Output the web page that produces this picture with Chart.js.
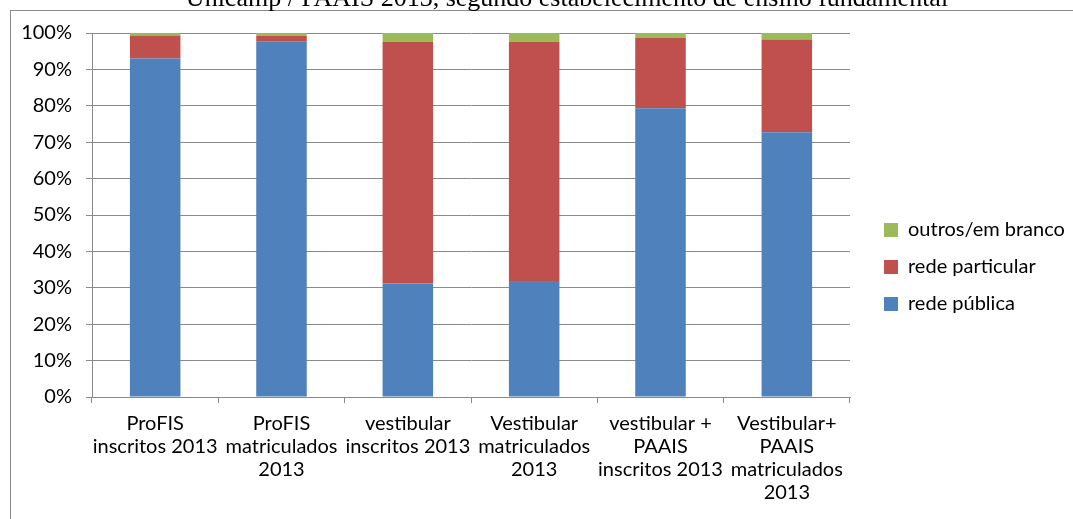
<!DOCTYPE html>
<html><head><meta charset="utf-8">
<script src="https://cdn.jsdelivr.net/npm/chart.js@4.4.0/dist/chart.umd.min.js"></script>
<style>
html,body{margin:0;padding:0;background:#fff;overflow:hidden;width:1073px;height:519px;}
#wrap{position:relative;width:1073px;height:519px;overflow:hidden;}
#title{position:absolute;left:0;width:1134px;text-align:center;top:-14.8px;font-family:'Liberation Serif';font-size:26px;line-height:26px;color:#000;white-space:nowrap;z-index:2;}
canvas{position:absolute;left:0;top:0;}
</style></head><body>
<div id="wrap"><canvas id="c" width="1073" height="519"></canvas><div id="title">Unicamp / PAAIS 2013, segundo estabelecimento de ensino fundamental</div></div>
<script>
const categories = [
  ["ProFIS", "inscritos 2013"],
  ["ProFIS", "matriculados", "2013"],
  ["vestibular", "inscritos 2013"],
  ["Vestibular", "matriculados", "2013"],
  ["vestibular +", "PAAIS", "inscritos 2013"],
  ["Vestibular+", "PAAIS", "matriculados", "2013"]
];
const redePublica    = [93.0, 97.6, 31.2, 31.9, 79.3, 72.7];
const redeParticular = [6.3, 1.6, 66.4, 65.7, 19.3, 25.5];
const outrosEmBranco = [0.7, 0.8, 2.4, 2.4, 1.4, 1.8];
const yTicks = [0, 10, 20, 30, 40, 50, 60, 70, 80, 90, 100];

const FONT = 'Lato';
const GRID = '#8a8a8a';

const framePlugin = {
  id: 'frame',
  beforeDraw(chart) {
    const ctx = chart.ctx;
    ctx.save();
    ctx.fillStyle = '#fff';
    ctx.fillRect(0, 0, chart.width, chart.height);
    ctx.strokeStyle = '#8a8a8a';
    ctx.lineWidth = 1;
    ctx.strokeRect(10.5, 10.5, 2000, 2000);
    ctx.restore();
  }
};

const legendPlace = {
  id: 'legendPlace',
  beforeLayout(chart) {
    const lg = chart.legend;
    if (lg && !lg._patched) {
      const orig = lg.fit.bind(lg);
      lg.fit = function () { orig(); this.width = 223; };
      lg._patched = true;
    }
  },
  afterLayout(chart) {
    const lg = chart.legend;
    const w = lg.right - lg.left;
    lg.left = 867; lg.right = lg.left + w;
    lg.top = 203; lg.bottom = lg.top + 200;
  }
};

new Chart(document.getElementById('c'), {
  type: 'bar',
  data: {
    labels: categories,
    datasets: [
      { label: 'rede pública', data: redePublica, backgroundColor: '#4F81BD' },
      { label: 'rede particular', data: redeParticular, backgroundColor: '#C0504D' },
      { label: 'outros/em branco', data: outrosEmBranco, backgroundColor: '#9BBB59' }
    ]
  },
  options: {
    responsive: false,
    animation: false,
    devicePixelRatio: 1,
    layout: { padding: { top: 33, left: 0, right: 0, bottom: 0 } },
    datasets: { bar: { categoryPercentage: 1, barPercentage: 0.4 } },
    plugins: {
      tooltip: { enabled: false },
      title: { display: false },
      legend: {
        position: 'right',
        align: 'start',
        reverse: true,
        labels: {
          boxWidth: 14, boxHeight: 14, padding: 17,
          color: '#000',
          font: { family: FONT, size: 20 }
        }
      }
    },
    scales: {
      x: {
        stacked: true,
        offset: true,
        afterFit(s) { s.height = 122; },
        grid: { offset: true, drawOnChartArea: false, tickLength: 6, color: GRID },
        border: { display: true, color: GRID },
        ticks: {
          autoSkip: false, maxRotation: 0, minRotation: 0,
          padding: 9.5, color: '#000',
          font: { family: FONT, size: 20, lineHeight: 1.15 }
        }
      },
      y: {
        stacked: true,
        min: 0, max: 100,
        afterFit(s) { s.width = 92; },
        afterBuildTicks(s) { s.ticks = yTicks.map(v => ({ value: v })); },
        grid: { tickLength: 6, color: GRID },
        border: { display: true, color: GRID },
        ticks: {
          padding: 14, color: '#000',
          font: { family: FONT, size: 20 },
          callback: v => v + '%'
        }
      }
    }
  },
  plugins: [framePlugin, legendPlace]
});
</script>
</body></html>
